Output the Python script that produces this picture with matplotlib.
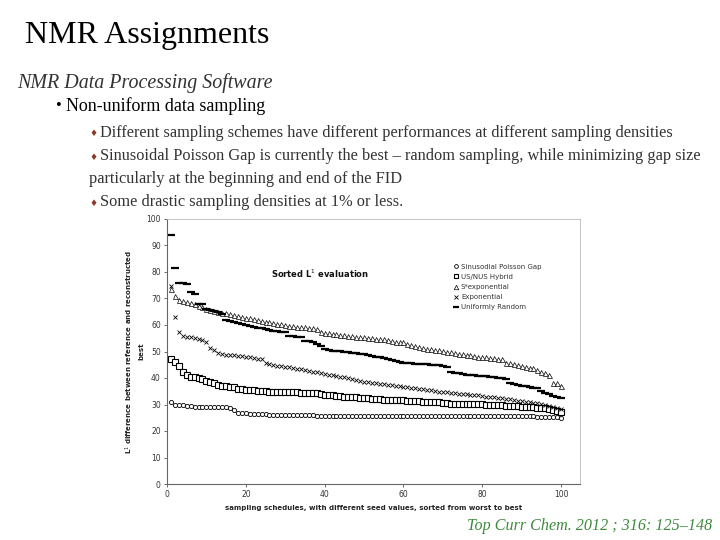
import matplotlib
matplotlib.use("Agg")
import matplotlib.pyplot as plt
import numpy as np

# ---------------- data ----------------
schedules = list(range(1, 101))

uniform_random = [94, 81.4, 76, 76, 75.5, 72.6, 71.7, 68, 68, 66,
                  65.7, 65.4, 65, 64, 62, 61.6, 61.2, 60.8, 60.4, 60,
                  59.7, 59.4, 59, 58.7, 58.4, 58.2, 57.9, 57.6, 57.2, 57.2,
                  55.8, 55.7, 55.5, 55.3, 54, 53.8, 53.5, 53, 52, 51,
                  50.6, 50.3, 50.2, 50.1, 50, 49.7, 49.5, 49.3, 49.1, 49,
                  48.7, 48.4, 48.1, 47.8, 47.5, 47.2, 46.9, 46.6, 46.2, 45.8,
                  45.6, 45.5, 45.4, 45.3, 45.3, 45.1, 45, 44.9, 44.8, 44.6,
                  44.3, 42.4, 42, 41.7, 41.5, 41.3, 41.2, 41, 40.9, 40.8,
                  40.6, 40.4, 40.2, 40.1, 39.9, 39.6, 38, 37.7, 37.3, 37,
                  36.8, 36.6, 36.4, 36.3, 35.2, 34.5, 33.8, 33.3, 32.8, 32.3]

s_exponential = [73.5, 71, 69.4, 69.2, 68.8, 68.4, 67.8, 67.3, 66.8, 66.2,
                 65.6, 65.3, 65, 64.7, 64.4, 64.1, 63.8, 63.4, 63.1, 62.8,
                 62.5, 62.2, 61.9, 61.6, 61.3, 61, 60.8, 60.5, 60.2, 60,
                 59.8, 59.6, 59.4, 59.2, 59.1, 58.9, 58.7, 58.4, 57.2, 56.9,
                 56.8, 56.6, 56.5, 56.3, 56.2, 56, 55.8, 55.6, 55.5, 55.3,
                 55.2, 55, 54.9, 54.7, 54.6, 54.2, 53.8, 53.7, 53.6, 53.6,
                 53, 52.5, 52, 51.6, 51.2, 51, 50.8, 50.6, 50.4, 50.2,
                 50, 49.7, 49.4, 49.1, 48.9, 48.7, 48.5, 48.3, 48.1, 48,
                 47.8, 47.6, 47.4, 47.2, 47, 45.8, 45.5, 45.1, 44.8, 44.5,
                 44.2, 43.9, 43.6, 43, 42.4, 41.8, 41, 38.2, 38.2, 37.1]

exponential = [74.7, 63.1, 57.2, 56, 55.6, 55.3, 55, 54.7, 54.3, 53.7,
               51.2, 50.6, 49.3, 49, 48.7, 48.6, 48.5, 48.3, 48.2, 48,
               47.8, 47.6, 47.3, 47, 45.8, 45.3, 44.9, 44.5, 44.4, 44.3,
               44, 43.8, 43.5, 43.3, 43, 42.7, 42.4, 42.1, 41.8, 41.5,
               41.3, 41, 40.8, 40.5, 40.3, 40, 39.7, 39.3, 39, 38.6,
               38.4, 38.3, 38.1, 37.9, 37.7, 37.5, 37.3, 37.1, 36.9, 36.7,
               36.5, 36.3, 36.1, 35.9, 35.7, 35.5, 35.3, 35.1, 34.9, 34.7,
               34.6, 34.4, 34.3, 34.1, 34, 33.8, 33.7, 33.5, 33.4, 33.2,
               33, 32.9, 32.7, 32.5, 32.3, 32.1, 31.9, 31.7, 31.5, 31.3,
               31.1, 30.9, 30.7, 30.4, 30.2, 29.9, 29.6, 29.2, 28.8, 28.3]

us_nus_hybrid = [47.3, 46.2, 44.7, 42.4, 41.3, 40.5, 40.2, 40, 39.5, 39,
                 38.5, 38, 37.5, 37, 36.9, 36.7, 36.5, 36, 35.7, 35.5,
                 35.4, 35.3, 35.2, 35.1, 35, 34.9, 34.9, 34.8, 34.8, 34.7,
                 34.7, 34.6, 34.6, 34.5, 34.5, 34.4, 34.3, 34.2, 33.9, 33.7,
                 33.6, 33.4, 33.3, 33.1, 33, 32.9, 32.8, 32.7, 32.6, 32.5,
                 32.4, 32.2, 32.1, 32, 31.8, 31.8, 31.7, 31.7, 31.6, 31.6,
                 31.5, 31.4, 31.3, 31.2, 31.1, 31, 30.9, 30.9, 30.8, 30.7,
                 30.5, 30.3, 30.3, 30.3, 30.3, 30.2, 30.2, 30.2, 30.1, 30.1,
                 30, 30, 29.9, 29.8, 29.7, 29.6, 29.5, 29.4, 29.3, 29.2,
                 29.1, 29, 28.9, 28.8, 28.7, 28.5, 28.2, 27.9, 27.6, 27.3]

sinusoidal_poisson_gap = [30.8, 29.8, 29.7, 29.7, 29.6, 29.3, 29.2, 29.2, 29.2, 29.1,
                          29.1, 29.1, 29, 29, 28.9, 28.6, 27.9, 26.9, 26.8, 26.7,
                          26.6, 26.5, 26.4, 26.4, 26.3, 26.2, 26.2, 26.1, 26.1, 26,
                          26, 26, 25.9, 25.9, 25.9, 25.9, 25.9, 25.8, 25.8, 25.8,
                          25.8, 25.8, 25.8, 25.8, 25.8, 25.8, 25.8, 25.8, 25.8, 25.8,
                          25.8, 25.8, 25.8, 25.8, 25.8, 25.8, 25.8, 25.8, 25.8, 25.8,
                          25.8, 25.8, 25.8, 25.8, 25.8, 25.8, 25.8, 25.8, 25.8, 25.8,
                          25.8, 25.8, 25.8, 25.8, 25.8, 25.8, 25.8, 25.8, 25.8, 25.7,
                          25.7, 25.7, 25.7, 25.7, 25.7, 25.7, 25.6, 25.6, 25.6, 25.6,
                          25.5, 25.5, 25.5, 25.4, 25.4, 25.4, 25.3, 25.3, 25.2, 25.0]

series_labels = ["Sinusodial Poisson Gap", "US/NUS Hybrid", "S*exponential",
                 "Exponential", "Uniformly Random"]

x_ticks = [0, 20, 40, 60, 80, 100]
y_ticks = [0, 10, 20, 30, 40, 50, 60, 70, 80, 90, 100]

# ---------------- figure ----------------
W, H = 720, 540
fig = plt.figure(figsize=(7.2, 5.4), dpi=100)
fig.patch.set_facecolor("white")

def fx(px):
    return px / W

def fy(py):
    return 1 - py / H

serif = ["Liberation Serif", "DejaVu Serif"]
txtcol = "#333333"
diamond_col = "#8B3A2A"

fig.text(fx(25), fy(36), "NMR Assignments", family=serif, fontsize=23,
         color="black", va="center", ha="left")
fig.text(fx(17), fy(83), "NMR Data Processing Software", family=serif,
         style="italic", fontsize=14.4, color=txtcol, va="center", ha="left")
fig.text(fx(55), fy(106), "\u2022", family=serif, fontsize=12, color="black",
         va="center", ha="left")
fig.text(fx(66), fy(106), "Non-uniform data sampling", family=serif,
         fontsize=13, color="black", va="center", ha="left")

lines = [
    (133, True, "Different sampling schemes have different performances at different sampling densities"),
    (156, True, "Sinusoidal Poisson Gap is currently the best \u2013 random sampling, while minimizing gap size"),
    (179, False, "particularly at the beginning and end of the FID"),
    (202, True, "Some drastic sampling densities at 1% or less."),
]
for yy, has_d, t in lines:
    if has_d:
        fig.text(fx(89), fy(yy + 1), "\u2666", family=["DejaVu Sans"], fontsize=6.5,
                 color=diamond_col, va="center", ha="left")
        fig.text(fx(100), fy(yy), t, family=serif, fontsize=11.8, color=txtcol,
                 va="center", ha="left")
    else:
        fig.text(fx(89), fy(yy), t, family=serif, fontsize=11.8, color=txtcol,
                 va="center", ha="left")

fig.text(fx(712), fy(526), "Top Curr Chem. 2012 ; 316: 125\u2013148", family=serif,
         style="italic", fontsize=11.6, color="#3d8a3d", va="center", ha="right")

# ---------------- chart ----------------
ax = fig.add_axes([fx(167), fy(484), fx(580 - 167), (484 - 219) / H])
ax.set_xlim(0, 104.8)
ax.set_ylim(0, 100)

mk = dict(linestyle="none", markerfacecolor="white", markeredgecolor="black")
ax.plot(schedules, sinusoidal_poisson_gap, marker="o", markersize=3.0,
        markeredgewidth=0.6, label=series_labels[0], **mk)
ax.plot(schedules, us_nus_hybrid, marker="s", markersize=3.8,
        markeredgewidth=0.8, label=series_labels[1], **mk)
ax.plot(schedules, s_exponential, marker="^", markersize=3.6,
        markeredgewidth=0.5, label=series_labels[2], **mk)
ax.plot(schedules, exponential, marker="x", markersize=3.4,
        markeredgewidth=0.6, label=series_labels[3], linestyle="none", color="black")
ax.plot(schedules, uniform_random, marker="_", markersize=5.5,
        markeredgewidth=1.6, label=series_labels[4], linestyle="none", color="black")

ax.set_xticks(x_ticks)
ax.set_yticks(y_ticks)
ax.tick_params(direction="out", length=2.5, width=0.6, colors="#555555",
               labelsize=5.5, labelcolor="#333333", pad=2)

for s in ["top", "right"]:
    ax.spines[s].set_color("#bbbbbb")
    ax.spines[s].set_linewidth(0.6)
for s in ["left", "bottom"]:
    ax.spines[s].set_color("#666666")
    ax.spines[s].set_linewidth(0.8)

ax.set_xlabel("sampling schedules, with different seed values, sorted from worst to best",
              fontsize=5, fontweight="bold", color="#222222", labelpad=4)
ax.set_ylabel("L$^{1}$ difference between reference and reconstructed\nbest",
              fontsize=5, fontweight="bold", color="#222222", labelpad=1.5,
              linespacing=1.6)

ax.text(38.8, 79.3, "Sorted L$^{1}$ evaluation", fontsize=6, fontweight="bold",
        ha="center", va="center", color="#111111")

leg = ax.legend(loc="upper left", bbox_to_anchor=(0.683, 0.85), frameon=False,
                fontsize=5, handlelength=0.6, handletextpad=0.4,
                labelspacing=0.6, borderpad=0.2, markerscale=0.9)
for t in leg.get_texts():
    t.set_color("#333333")

fig.savefig("out.png", dpi=100, facecolor="white")
